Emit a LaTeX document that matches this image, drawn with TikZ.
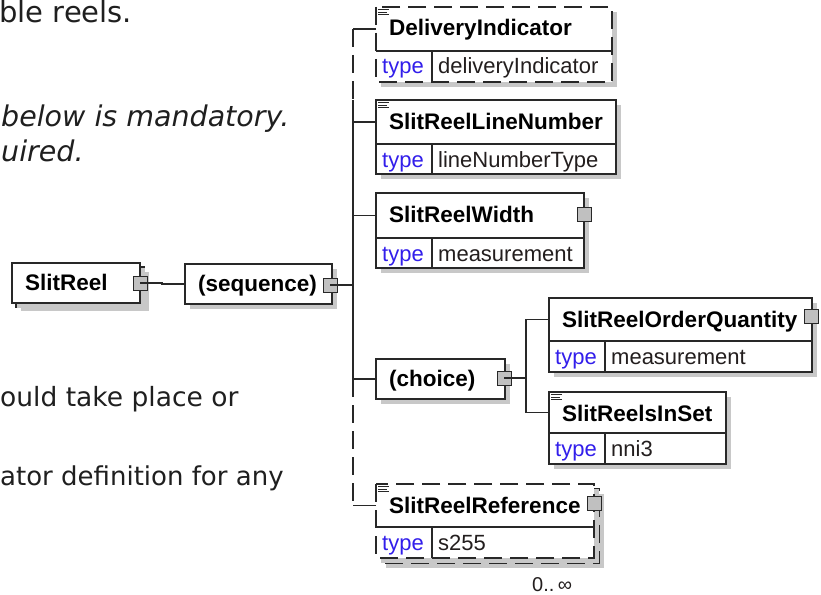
\documentclass[tikz,border=0pt]{standalone}
\usepackage{fontspec}
\setmainfont{Liberation Sans}
\newfontfamily\verd{DejaVu Sans}
\usetikzlibrary{calc}
\definecolor{bordc}{RGB}{40,40,40}
\definecolor{shadc}{RGB}{200,200,200}
\definecolor{portc}{RGB}{192,192,192}
\definecolor{typec}{RGB}{50,30,235}
\definecolor{valc}{RGB}{35,30,30}
\tikzset{
  conn/.style={draw=bordc, line width=1.2pt},
  bord/.style={draw=bordc, line width=1.2pt},
  dsh/.style={dash pattern=on 18pt off 8pt},
  cellbox/.style={fill=white, draw=none, inner sep=0pt, outer sep=0pt},
  hdrtxt/.style={inner sep=0pt, anchor=base west, font=\fontsize{22.5}{26}\selectfont\bfseries},
  typetxt/.style={inner sep=0pt, anchor=base west, text=typec, font=\fontsize{22}{26}\selectfont},
  valtxt/.style={inner sep=0pt, anchor=base west, text=valc, font=\fontsize{22}{26}\selectfont},
  port/.style={draw=bordc, fill=portc, line width=1pt, minimum size=14pt, inner sep=0pt, outer sep=0pt},
  prose/.style={inner sep=0pt, anchor=base west, text=black!88},
}
% element with header + type row
\newcommand{\xelem}[9]{%
  \fill[shadc] (#2+5,#3+5) rectangle (#2+#4+5,#3+#5+#6+5);
  \node[cellbox, minimum width=#4, minimum height=#5, anchor=north west] (#1) at (#2,#3) {};
  \node[cellbox, minimum width=#4, minimum height=#6, anchor=north west] (#1t) at (#2,#3+#5) {};
  \node[cellbox, minimum width=56, minimum height=#6, anchor=north west] (#1l) at (#2,#3+#5) {};
  \draw[bord] (#1.south west) -- (#1.south east) (#1l.north east) -- (#1l.south east);
  \draw[bord,#9] (#1.north west) rectangle (#1t.south east);
  \node[hdrtxt] (#1n) at (#2+13,#3+29) {#7};
  \node[typetxt] (#1k) at (#2+6,#3+#5+23) {type};
  \node[valtxt] (#1v) at (#2+62,#3+#5+23) {#8};
}
% single row box
\newcommand{\xbox}[6]{%
  \fill[shadc] (#2+5,#3+5) rectangle (#2+#4+5,#3+#5+5);
  \node[cellbox, bord, minimum width=#4, minimum height=#5, anchor=north west] (#1) at (#2,#3) {};
  \node[hdrtxt] (#1n) at (#2+13,#3+27) {#6};
}
\newcommand{\docicon}[2]{%
  \draw[bordc, line width=0.8pt] (#1+2,#2+2.5) -- ++(11,0) (#1+2,#2+5) -- ++(9,0) (#1+2,#2+7.5) -- ++(11,0);
}
\begin{document}
\begin{tikzpicture}[x=1pt,y=-1pt]
\useasboundingbox (0,0) rectangle (821,594);
\fill[white] (0,0) rectangle (821,594);

% prose fragments
\node[prose, font=\verd\fontsize{29}{34}\selectfont] (t1) at (-1,23) {ble reels.};
\node[prose, font=\verd\itshape\fontsize{28.5}{34}\selectfont] (t2) at (1,126) {below is mandatory.};
\node[prose, font=\verd\itshape\fontsize{28.5}{34}\selectfont] (t3) at (1,161) {uired.};
\node[prose, font=\verd\fontsize{26.5}{32}\selectfont] (t4) at (0,406) {ould take place or};
\node[prose, font=\verd\fontsize{26}{32}\selectfont] (t5) at (0,485) {ator definition for any};

% SlitReel (stacked)
\fill[shadc] (21,272) rectangle (149,311);
\node[cellbox, bord, minimum width=128, minimum height=40, anchor=north west] (srb) at (16,267) {};
\xbox{sr}{12}{263}{128}{40}{SlitReel}
% sequence
\xbox{seq}{185}{264}{147}{40}{(sequence)}
% choice
\xbox{ch}{376}{359}{129}{40}{(choice)}

% elements
\xelem{di}{376}{7}{236}{44}{31}{DeliveryIndicator}{deliveryIndicator}{dsh}
\docicon{376}{7}
\xelem{ln}{376}{100}{240}{44}{30}{SlitReelLineNumber}{lineNumberType}{solid}
\docicon{376}{100}
\xelem{wd}{376}{193}{208}{45}{30}{SlitReelWidth}{measurement}{solid}
\xelem{oq}{549}{298}{263}{43}{31}{SlitReelOrderQuantity}{measurement}{solid}
\xelem{rs}{549}{392}{177}{41}{31}{SlitReelsInSet}{nni3}{solid}
\docicon{549}{392}
% SlitReelReference stacked
\fill[shadc] (386,494) rectangle (604,568);
\node[cellbox, minimum width=218, minimum height=74, anchor=north west] (rfb) at (381,489) {};
\draw[bord,dsh] (rfb.north west) rectangle (rfb.south east);
\xelem{rf}{376}{484}{218}{43}{31}{SlitReelReference}{s255}{dsh}
\docicon{376}{484}
\node[inner sep=0pt, anchor=base west, text=valc, font=\fontsize{20}{24}\selectfont] (occ) at (532,591) {0..\,∞};

% ports
\node[port] (srp) at (140,283) {};
\node[port] (seqp) at (330,285) {};
\node[port] (chp) at (504,378) {};
\node[port] (wdp) at (584,214) {};
\node[port] (oqp) at (811,316) {};
\node[port] (rfp) at (594,503) {};

% connectors
\coordinate (bus) at (353,0);
\coordinate (cbus) at (526,0);
\draw[conn] (srp.center) -- ++(22,0) coordinate (sj) -- (sj |- seq.west) -- (seq.west);
\draw[conn] (seqp.center) -- (seqp.center -| bus);
\draw[conn] (di.west) -- (di.west -| bus);
\draw[conn,dsh] (di.west -| bus) -- (bus |- ln.north);
\draw[conn] (bus |- ln.north) -- (bus |- ch.west);
\draw[conn] (ln.west) -- (ln.west -| bus);
\draw[conn] (wd.west) -- (wd.west -| bus);
\draw[conn] (ch.west) -- (ch.west -| bus);
\draw[conn,dsh] (bus |- ch.west) -- (bus |- rf.west);
\draw[conn] (rf.west) -- (rf.west -| bus);
\draw[conn] (chp.center) -- (chp.center -| cbus);
\draw[conn] (oq.west) -- (oq.west -| cbus) -- (rs.west -| cbus) -- (rs.west);
\end{tikzpicture}
\end{document}
